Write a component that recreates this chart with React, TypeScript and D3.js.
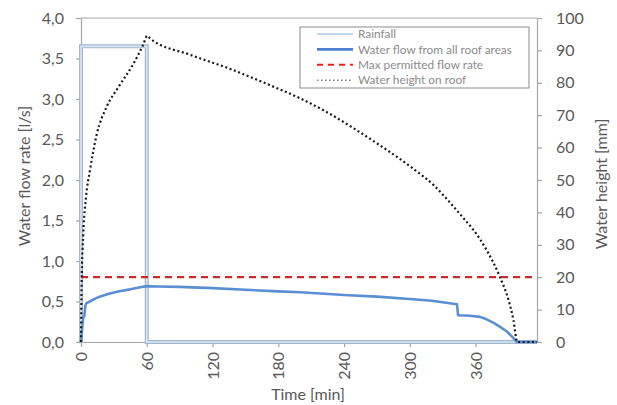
import React, { useRef, useEffect } from 'react';
import * as d3 from 'd3';

// rainfall intensity [l/s]
const rainTime = [0, 0, 60, 60, 416];
const rainValue = [0, 3.65, 3.65, 0, 0];

// water flow from all roof areas [l/s]
const flowTime = [0, 1, 2, 3, 4, 5, 8, 12, 17, 24, 30, 36, 45, 54, 60, 70, 90, 120, 150, 180, 200, 240, 270, 300, 320, 343, 344, 355, 364, 370, 376, 382, 388.5, 393, 397.6, 416];
const flowValue = [0, 0.15, 0.3, 0.32, 0.45, 0.48, 0.5, 0.53, 0.56, 0.59, 0.61, 0.63, 0.65, 0.675, 0.69, 0.685, 0.68, 0.665, 0.645, 0.625, 0.615, 0.58, 0.56, 0.53, 0.51, 0.465, 0.33, 0.325, 0.31, 0.28, 0.24, 0.19, 0.13, 0.07, 0, 0];

// max permitted flow rate [l/s]
const maxFlow = 0.8;

// water height on roof [mm]
const heightTime = [0, 0.6, 2.1, 4.6, 8.2, 14.3, 23.4, 34, 47.7, 56.8, 60.5, 63, 100, 136, 170, 200, 225, 248.5, 270, 288, 305, 321.5, 336.7, 350, 358, 370, 382, 390, 394.5, 398, 416];
const heightValue = [0, 18, 33.5, 44.8, 53, 64, 72.6, 78.6, 85.8, 91.8, 94.5, 93.7, 88.6, 84.3, 79.6, 75.2, 70.8, 66, 61.3, 57.2, 53, 48.5, 43, 37.8, 34.6, 28.4, 20.2, 13, 6.8, 0, 0];

const xTicks = [0, 60, 120, 180, 240, 300, 360];
const leftTicks = [0, 0.5, 1, 1.5, 2, 2.5, 3, 3.5, 4];
const rightTicks = [0, 10, 20, 30, 40, 50, 60, 70, 80, 90, 100];

const legendLabels = ['Rainfall', 'Water flow from all roof areas', 'Max permitted flow rate', 'Water height on roof'];

const App = () => {
  const svgRef = useRef(null);

  useEffect(() => {
    const svg = d3.select(svgRef.current);
    svg.selectAll('*').remove();
    const width = 617;
    const height = 405;
    const margin = { top: 18, right: 80, bottom: 63, left: 81 };
    const font = 'Lato, "Open Sans", sans-serif';
    const textColor = '#595959';
    const axisColor = '#a6a6a6';

    const x = d3.scaleLinear().domain([0, 416]).range([margin.left, width - margin.right]);
    const yL = d3.scaleLinear().domain([0, 4]).range([height - margin.bottom, margin.top]);
    const yR = d3.scaleLinear().domain([0, 100]).range([height - margin.bottom, margin.top]);
    const comma = (d) => d3.format('.1f')(d).replace('.', ',');

    // top border
    svg.append('line')
      .attr('x1', x(0)).attr('x2', x(416))
      .attr('y1', yL(4)).attr('y2', yL(4))
      .attr('stroke', axisColor).attr('stroke-width', 1);

    const styleAxis = (g) => {
      g.selectAll('path, line').attr('stroke', axisColor).attr('stroke-width', 1.2);
      g.selectAll('text').attr('fill', textColor).style('font-family', font).style('font-size', '16px');
    };

    svg.append('g')
      .attr('transform', `translate(0,${yL(0)})`)
      .call(d3.axisBottom(x).tickValues(xTicks).tickSize(5).tickSizeOuter(0))
      .call(styleAxis)
      .call(g => g.selectAll('text')
        .attr('transform', 'rotate(-90)')
        .attr('x', -10).attr('y', 0).attr('dy', '0.35em')
        .attr('text-anchor', 'end'));

    svg.append('g')
      .attr('transform', `translate(${x(0)},0)`)
      .call(d3.axisLeft(yL).tickValues(leftTicks).tickFormat(comma).tickSize(5).tickPadding(12).tickSizeOuter(0))
      .call(styleAxis);

    svg.append('g')
      .attr('transform', `translate(${x(416)},0)`)
      .call(d3.axisRight(yR).tickValues(rightTicks).tickSize(5).tickPadding(14).tickSizeOuter(0))
      .call(styleAxis);

    // axis titles
    const title = (txt, tx, ty, rot) => svg.append('text')
      .attr('transform', `translate(${tx},${ty}) rotate(${rot})`)
      .attr('text-anchor', 'middle')
      .attr('fill', textColor)
      .style('font-family', font).style('font-size', '16px')
      .text(txt);
    title('Time [min]', 308, 400, 0);
    title('Water flow rate [l/s]', 30, 176, -90);
    title('Water height [mm]', 607, 184, -90);

    // rainfall
    const rainLine = d3.line().x((d, i) => x(rainTime[i])).y(d => yL(d));
    svg.append('path').datum(rainValue).attr('d', rainLine)
      .attr('fill', 'none').attr('stroke', '#a3b6cf').attr('stroke-width', 4);
    svg.append('path').datum(rainValue).attr('d', rainLine)
      .attr('fill', 'none').attr('stroke', '#dde7f3').attr('stroke-width', 1.6);

    // max permitted flow
    svg.append('line')
      .attr('x1', x(0)).attr('x2', x(416))
      .attr('y1', yL(maxFlow)).attr('y2', yL(maxFlow))
      .attr('stroke', '#d0282a').attr('stroke-width', 2.2)
      .attr('stroke-dasharray', '7,5');

    // water flow
    const flowLine = d3.line().x((d, i) => x(flowTime[i])).y(d => yL(d));
    svg.append('path').datum(flowValue).attr('d', flowLine)
      .attr('fill', 'none').attr('stroke', '#5b8fd3').attr('stroke-width', 2.6)
      .attr('stroke-linejoin', 'round');

    // water height
    const heightLine = d3.line().curve(d3.curveMonotoneX).x((d, i) => x(heightTime[i])).y(d => yR(d));
    svg.append('path').datum(heightValue).attr('d', heightLine)
      .attr('fill', 'none').attr('stroke', '#1a1a1a').attr('stroke-width', 2.2)
      .attr('stroke-dasharray', '2,2.6');

    // legend
    const lg = svg.append('g').attr('transform', 'translate(300,27)');
    lg.append('rect').attr('width', 229).attr('height', 61)
      .attr('fill', '#fff').attr('stroke', '#8c8c8c').attr('stroke-width', 1);
    const samples = [
      { stroke: '#c3d5ec', width: 2, dash: null },
      { stroke: '#4a7fcc', width: 2.6, dash: null },
      { stroke: '#ff1a1a', width: 2, dash: '6,5' },
      { stroke: '#8a8a8a', width: 1.6, dash: '1.6,2.4' },
    ];
    legendLabels.forEach((label, i) => {
      const row = lg.append('g').attr('transform', `translate(0,${7 + i * 15.4})`);
      row.append('line').attr('x1', 17).attr('x2', 53).attr('y1', 0).attr('y2', 0)
        .attr('stroke', samples[i].stroke).attr('stroke-width', samples[i].width)
        .attr('stroke-dasharray', samples[i].dash);
      row.append('text').attr('x', 58).attr('y', 0).attr('dy', '0.35em')
        .attr('fill', '#8c8c8c')
        .style('font-family', font).style('font-size', '11.8px')
        .text(label);
    });
  }, []);

  return (
    <svg ref={svgRef} width={617} height={405}
      style={{ position: 'absolute', left: 0, top: 0, background: '#fff' }} />
  );
};

export default App;
